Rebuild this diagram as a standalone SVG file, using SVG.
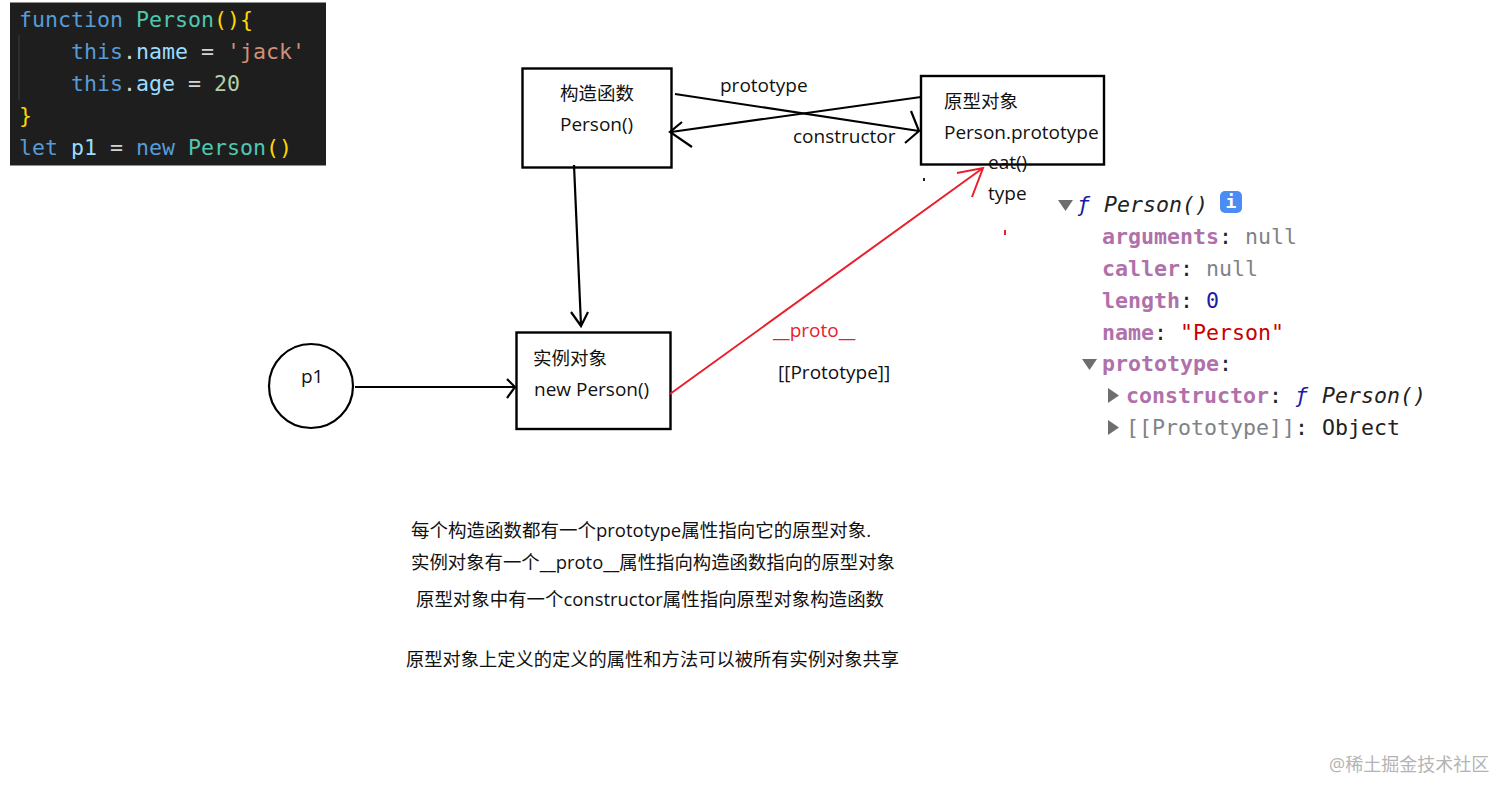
<svg xmlns="http://www.w3.org/2000/svg" width="1512" height="798" viewBox="0 0 1512 798">
<style>
text{font-family:"Open Sans","Noto Sans CJK SC","Noto Sans",sans-serif;font-size:19px;fill:#111}
.cn{font-family:"Noto Sans CJK SC",sans-serif;font-size:18.500px}
.box{fill:#fff;stroke:#000;stroke-width:2.4}
.ln{fill:none;stroke:#000;stroke-width:2.2}
.red{fill:none;stroke:#e8202c;stroke-width:2}
.code text{font-family:"DejaVu Sans Mono",monospace;font-size:21.600px}
.dev text{font-family:"DejaVu Sans Mono",monospace;font-size:21.600px;fill:#222}
.dev .k{fill:#b071ab;font-weight:700}
.dev .g{fill:#7f8386}
.dev .tri{fill:#6e6e6e}
.dev .i{font-style:italic}
.dev .f{fill:#1a1aa6;font-style:italic}
.note{font-size:18.500px}
</style>
<rect width="1512" height="798" fill="#fff"/>
<g id="code" class="code">
<rect x="10" y="2.500" width="316" height="163" fill="#1e1e1e"/>
<path d="M19 35V100" stroke="#3c3c3c" stroke-width="1"/>
<text y="26.500"><tspan x="19" fill="#569cd6">function</tspan><tspan x="136" fill="#4ec9b0">Person</tspan><tspan x="214" fill="#ffd700">(){</tspan></text>
<text y="58.500"><tspan x="71" fill="#569cd6">this</tspan><tspan x="123" fill="#d4d4d4">.</tspan><tspan x="136" fill="#9cdcfe">name</tspan><tspan x="201" fill="#d4d4d4">=</tspan><tspan x="227" fill="#ce9178">'jack'</tspan></text>
<text y="90.500"><tspan x="71" fill="#569cd6">this</tspan><tspan x="123" fill="#d4d4d4">.</tspan><tspan x="136" fill="#9cdcfe">age</tspan><tspan x="188" fill="#d4d4d4">=</tspan><tspan x="214" fill="#b5cea8">20</tspan></text>
<text y="122.500"><tspan x="19" fill="#ffd700">}</tspan></text>
<text y="154.500"><tspan x="19" fill="#569cd6">let</tspan><tspan x="71" fill="#9cdcfe">p1</tspan><tspan x="110" fill="#d4d4d4">=</tspan><tspan x="136" fill="#569cd6">new</tspan><tspan x="188" fill="#4ec9b0">Person</tspan><tspan x="266" fill="#ffd700">()</tspan></text>
</g>
<g id="constructor-node">
<rect class="box" x="522.500" y="68.500" width="149" height="99"/>
<text class="cn" x="560" y="100">构造函数</text>
<text x="560" y="131">Person()</text>
</g>
<g id="prototype-node">
<rect class="box" x="921" y="76" width="183" height="88.500"/>
<text class="cn" x="944" y="108">原型对象</text>
<text x="944" y="139">Person.prototype</text>
</g>
<g id="instance-node">
<rect class="box" x="516.500" y="332.500" width="154" height="96.500"/>
<text class="cn" x="533" y="365">实例对象</text>
<text x="534" y="396">new Person()</text>
</g>
<g id="p1-node">
<circle cx="311" cy="386" r="42" fill="#fff" stroke="#000" stroke-width="2.2"/>
<text x="301" y="383">p1</text>
</g>
<g id="connectors">
<path class="ln" d="M675 94L919 131M911 111L919 131L905 143"/>
<path class="ln" d="M921 97L671 132M682 122L670 132L692 147"/>
<path class="ln" d="M574 165L581 325M571 312L581 326L588 312"/>
<path class="ln" d="M355 387L514 387M507 379L515 387L507 398"/>
<path class="red" d="M670 394L983 168M957 173L983 168L972 197"/>
</g>
<g id="edge-labels">
<text x="720" y="92">prototype</text>
<text x="793" y="143">constructor</text>
<text x="988" y="169">eat()</text>
<text x="988" y="200">type</text>
<text x="773" y="337" style="fill:#e8202c">__proto__</text>
<text x="778" y="379">[[Prototype]]</text>
</g>
<g id="specks">
<rect x="923" y="178" width="2" height="3" fill="#222"/>
<rect x="1004" y="230" width="2" height="5" fill="#e8202c"/>
</g>
<g id="devtools" class="dev">
<path class="tri" d="M1058 200H1073L1065.500 211Z"/>
<text class="f" x="1077" y="212">ƒ</text>
<text class="i" x="1104" y="212">Person()</text>
<rect x="1220" y="191" width="22" height="22" rx="5" fill="#4b8df5"/>
<text x="1231" y="208" text-anchor="middle" style="fill:#fff;font-size:18px;font-weight:700">i</text>
<text y="244"><tspan class="k" x="1102">arguments</tspan><tspan x="1219">:</tspan><tspan class="g" x="1245">null</tspan></text>
<text y="276"><tspan class="k" x="1102">caller</tspan><tspan x="1180">:</tspan><tspan class="g" x="1206">null</tspan></text>
<text y="307.500"><tspan class="k" x="1102">length</tspan><tspan x="1180">:</tspan><tspan x="1206" style="fill:#1a1aa6">0</tspan></text>
<text y="339.500"><tspan class="k" x="1102">name</tspan><tspan x="1154">:</tspan><tspan x="1180" style="fill:#c80000">"Person"</tspan></text>
<path class="tri" d="M1082 359H1097L1089.500 370Z"/>
<text y="371"><tspan class="k" x="1102">prototype</tspan><tspan x="1219">:</tspan></text>
<path class="tri" d="M1108 388V403L1119 395.500Z"/>
<text y="402.500"><tspan class="k" x="1126">constructor</tspan><tspan x="1269">:</tspan></text>
<text class="f" x="1295" y="402.500">ƒ</text>
<text class="i" x="1322" y="402.500">Person()</text>
<path class="tri" d="M1108 420V435L1119 427.500Z"/>
<text y="434.500"><tspan class="g" x="1126">[[Prototype]]</tspan><tspan x="1295">:</tspan><tspan x="1322">Object</tspan></text>
</g>
<g id="notes">
<text class="note" x="411" y="537" textLength="460" lengthAdjust="spacingAndGlyphs">每个构造函数都有一个prototype属性指向它的原型对象.</text>
<text class="note" x="411" y="569" textLength="484" lengthAdjust="spacingAndGlyphs">实例对象有一个__proto__属性指向构造函数指向的原型对象</text>
<text class="note" x="416" y="606" textLength="468" lengthAdjust="spacingAndGlyphs">原型对象中有一个constructor属性指向原型对象构造函数</text>
<text class="note" x="406" y="666" textLength="493" lengthAdjust="spacingAndGlyphs">原型对象上定义的定义的属性和方法可以被所有实例对象共享</text>
</g>
<g id="watermark">
<text x="1329" y="771" style="fill:#b4b4b4;font-size:18px">@稀土掘金技术社区</text>
</g>
</svg>
